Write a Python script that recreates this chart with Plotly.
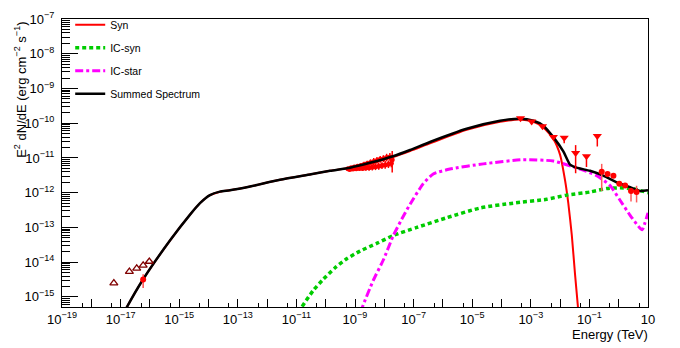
import numpy as np
import plotly.graph_objects as go

# ---- model curves, stored as log10(E / TeV) and log10(E^2 dN/dE / erg cm^-2 s^-1) ----
syn_log_e = [-16.85, -16.79, -16.23, -15.31, -14.63, -14.29, -13.95, -13.61, -13.27, -12.58,
             -11.56, -10.50, -9.85, -9.17, -8.49, -7.70, -7.12, -6.44, -5.19, -4.05,
             -3.37, -2.91, -2.57, -2.23, -2.00, -1.83, -1.72, -1.60, -1.49, -1.40, -1.36]
syn_log_f = [-15.40, -15.30, -14.49, -13.37, -12.63, -12.30, -12.07, -11.97, -11.93, -11.82,
             -11.63, -11.47, -11.37, -11.28, -11.15, -10.97, -10.80, -10.58, -10.19, -9.96,
             -9.89, -9.96, -10.12, -10.45, -10.91, -11.65, -12.30, -13.23, -14.35, -15.20, -15.60]

icsyn_log_e = [-10.90, -10.82, -10.42, -10.08, -9.68, -9.28, -8.83, -8.26, -7.69, -6.89,
               -5.87, -4.73, -3.60, -2.46, -1.78, -0.98, -0.41, 0.04, 0.50, 1.00]
icsyn_log_f = [-15.45, -15.30, -14.81, -14.49, -14.16, -13.90, -13.68, -13.46, -13.23, -13.00,
               -12.72, -12.44, -12.30, -12.19, -12.07, -11.98, -11.88, -11.86, -11.89, -12.00]

icstar_log_e = [-8.80, -8.75, -8.38, -8.03, -7.69, -7.41, -7.12, -6.67, -6.33, -5.76,
                -4.62, -3.26, -2.23, -1.32, -0.75, -0.30, 0.04, 0.39, 0.61, 0.80, 0.90, 1.00]
icstar_log_f = [-15.45, -15.30, -14.53, -13.93, -13.23, -12.77, -12.33, -11.74, -11.46, -11.32,
                -11.17, -11.05, -11.09, -11.32, -11.51, -11.79, -12.21, -12.65, -12.90, -13.07, -12.86, -12.58]

sum_log_e = [-16.85, -16.79, -16.23, -15.31, -14.63, -14.29, -13.95, -13.61, -13.27, -12.58,
             -11.56, -10.50, -9.85, -9.17, -8.49, -7.70, -7.12, -6.44, -5.19, -4.05,
             -3.37, -2.91, -2.57, -2.23, -1.89, -1.66, -1.44, -0.98, -0.53, -0.07, 0.39, 0.73, 1.00]
sum_log_f = [-15.40, -15.30, -14.49, -13.37, -12.63, -12.30, -12.07, -11.97, -11.93, -11.82,
             -11.63, -11.47, -11.37, -11.28, -11.14, -10.95, -10.77, -10.54, -10.16, -9.93,
             -9.87, -9.93, -10.07, -10.40, -10.81, -11.19, -11.28, -11.37, -11.51, -11.70, -11.84, -11.95, -11.93]

# ---- measurements (log10 values) ----
# X-ray spectrum
xray_log_e = [-9.24, -9.18, -9.13, -9.07, -9.02, -8.96, -8.91, -8.85, -8.80, -8.74,
              -8.69, -8.63, -8.58, -8.52, -8.47, -8.41, -8.36, -8.30, -8.25, -8.19,
              -8.14, -8.08, -8.03, -7.97, -7.92, -7.86, -7.81, -7.76, -7.73]
xray_log_f = [-11.31, -11.33, -11.28, -11.32, -11.26, -11.31, -11.24, -11.30, -11.22, -11.30,
              -11.19, -11.29, -11.16, -11.28, -11.13, -11.27, -11.10, -11.25, -11.07, -11.24,
              -11.04, -11.22, -11.02, -11.20, -10.99, -11.18, -10.97, -11.15, -11.05]
xray_log_hi = [0.03, 0.03, 0.04, 0.05, 0.05, 0.06, 0.06, 0.07, 0.07, 0.07,
               0.08, 0.08, 0.08, 0.09, 0.09, 0.09, 0.10, 0.10, 0.10, 0.10,
               0.10, 0.10, 0.10, 0.11, 0.11, 0.11, 0.11, 0.12, 0.25]
xray_log_lo = [0.03, 0.03, 0.04, 0.05, 0.05, 0.06, 0.06, 0.07, 0.07, 0.07,
               0.08, 0.08, 0.08, 0.09, 0.09, 0.09, 0.10, 0.10, 0.10, 0.10,
               0.10, 0.10, 0.10, 0.11, 0.11, 0.11, 0.11, 0.12, 0.37]

# optical / IR limits
opt_log_e = [-17.23, -16.70, -16.45, -16.23, -16.02]
opt_log_f = [-14.60, -14.27, -14.18, -14.09, -13.98]

# optical detection
optdet_log_e = [-16.23]
optdet_log_f = [-14.50]
optdet_log_hi = [0.15]
optdet_log_lo = [0.24]

# GeV points (downward triangles)
gev_log_e = [-3.35, -2.97, -2.60, -2.23, -1.86, -1.47, -1.10, -0.73]
gev_log_f = [-9.86, -9.95, -10.09, -10.40, -10.42, -10.86, -10.95, -10.37]
gev_log_hi = [0.0, 0.0, 0.0, 0.0, 0.0, 0.23, 0.0, 0.0]
gev_log_lo = [0.0, 0.0, 0.0, 0.0, 0.16, 0.58, 0.31, 0.30]

# TeV points
tev_log_e = [-0.58, -0.38, -0.18, 0.02, 0.22, 0.42, 0.61]
tev_log_f = [-11.40, -11.46, -11.51, -11.74, -11.79, -11.95, -11.98]
tev_log_hi = [0.23, 0.06, 0.06, 0.06, 0.07, 0.08, 0.18]
tev_log_lo = [0.55, 0.06, 0.06, 0.06, 0.07, 0.30, 0.30]


def p10(a):
    return np.power(10.0, np.asarray(a, dtype=float))


def err_arrays(log_f, log_hi, log_lo):
    f = p10(log_f)
    up = p10(np.asarray(log_f) + np.asarray(log_hi)) - f
    dn = f - p10(np.asarray(log_f) - np.asarray(log_lo))
    return f, up, dn


FONT = "Liberation Sans, Arial, Helvetica, sans-serif"
RED = "#ff0000"
GREEN = "#00cc00"
MAGENTA = "#ff00ff"

fig = go.Figure()

# X-ray data cloud
xf, xup, xdn = err_arrays(xray_log_f, xray_log_hi, xray_log_lo)
fig.add_trace(go.Scatter(
    x=p10(xray_log_e), y=xf, mode="markers",
    marker=dict(symbol="circle", size=5, color=RED),
    error_y=dict(type="data", symmetric=False, array=xup, arrayminus=xdn,
                 color=RED, thickness=1.5, width=0),
    showlegend=False, hoverinfo="skip"))

# model curves
fig.add_trace(go.Scatter(
    x=p10(syn_log_e), y=p10(syn_log_f), mode="lines", name="Syn",
    line=dict(color=RED, width=2, shape="spline", smoothing=0.6),
    legendgroup="syn"))
fig.add_trace(go.Scatter(
    x=p10(icsyn_log_e), y=p10(icsyn_log_f), mode="lines", name="IC-syn",
    line=dict(color=GREEN, width=3.5, dash="4px,3px", shape="spline", smoothing=0.6),
    legendgroup="icsyn"))
fig.add_trace(go.Scatter(
    x=p10(icstar_log_e), y=p10(icstar_log_f), mode="lines", name="IC-star",
    line=dict(color=MAGENTA, width=3, dash="8px,3px,3px,3px", shape="spline", smoothing=0.6),
    legendgroup="icstar"))
fig.add_trace(go.Scatter(
    x=p10(sum_log_e), y=p10(sum_log_f), mode="lines", name="Summed Spectrum",
    line=dict(color="black", width=2.5, shape="spline", smoothing=0.6),
    legendgroup="sum"))

# optical / IR limits
fig.add_trace(go.Scatter(
    x=p10(opt_log_e), y=p10(opt_log_f), mode="markers",
    marker=dict(symbol="triangle-up-open", size=7, color="#800000", line=dict(width=1.3)),
    showlegend=False, hoverinfo="skip"))

# optical detection
of, oup, odn = err_arrays(optdet_log_f, optdet_log_hi, optdet_log_lo)
fig.add_trace(go.Scatter(
    x=p10(optdet_log_e), y=of, mode="markers",
    marker=dict(symbol="circle", size=6, color=RED),
    error_y=dict(type="data", symmetric=False, array=oup, arrayminus=odn,
                 color="#ff5050", thickness=1.5, width=0),
    showlegend=False, hoverinfo="skip"))

# GeV points
gf, gup, gdn = err_arrays(gev_log_f, gev_log_hi, gev_log_lo)
fig.add_trace(go.Scatter(
    x=p10(gev_log_e), y=gf, mode="markers",
    marker=dict(symbol="triangle-down", size=8, color=RED),
    error_y=dict(type="data", symmetric=False, array=gup, arrayminus=gdn,
                 color=RED, thickness=1.5, width=0),
    showlegend=False, hoverinfo="skip"))

# TeV points
tf, tup, tdn = err_arrays(tev_log_f, tev_log_hi, tev_log_lo)
fig.add_trace(go.Scatter(
    x=p10(tev_log_e), y=tf, mode="markers",
    marker=dict(symbol="circle", size=6, color=RED),
    error_y=dict(type="data", symmetric=False, array=tup, arrayminus=tdn,
                 color="#ff5a5a", thickness=1.5, width=0),
    showlegend=False, hoverinfo="skip"))

# axis ticks
x_exps = list(range(-19, 2))
x_tickvals = [10.0 ** e for e in x_exps]
x_ticktext = []
for e in x_exps:
    if e % 2 == 0:
        x_ticktext.append("")
    elif e == 1:
        x_ticktext.append("10")
    else:
        x_ticktext.append("10<sup>\u2212%d</sup>" % (-e))
x_minor = [5 * 10.0 ** e for e in range(-19, 1)]

y_exps = list(range(-15, -6))
y_tickvals = [10.0 ** e for e in y_exps]
y_ticktext = ["10<sup>\u2212%d</sup>" % (-e) for e in y_exps]

fig.update_xaxes(
    type="log", range=[-19, 1], showgrid=False, zeroline=False,
    showline=True, linecolor="black", linewidth=1, mirror=True,
    ticks="inside", ticklen=8, tickwidth=1, tickcolor="black",
    tickmode="array", tickvals=x_tickvals, ticktext=x_ticktext,
    tickfont=dict(family=FONT, size=13, color="black"),
    minor=dict(tickmode="array", tickvals=x_minor, ticks="inside", ticklen=4,
               tickwidth=1, tickcolor="black", showgrid=False),
)
fig.update_yaxes(
    type="log", range=[-15.29, -7], showgrid=False, zeroline=False,
    showline=True, linecolor="black", linewidth=1, mirror=True,
    ticks="inside", ticklen=16, tickwidth=1, tickcolor="black",
    tickmode="array", tickvals=y_tickvals, ticktext=y_ticktext,
    tickfont=dict(family=FONT, size=13, color="black"),
    ticklabelstandoff=4,
    minor=dict(dtick="D1", ticks="inside", ticklen=8, tickwidth=1,
               tickcolor="black", showgrid=False),
)

fig.update_layout(
    width=680, height=348,
    margin=dict(l=62, r=32, t=10, b=41),
    paper_bgcolor="white", plot_bgcolor="white",
    font=dict(family=FONT, size=13, color="black"),
    legend=dict(x=0.014, y=1.03, xanchor="left", yanchor="top",
                bgcolor="rgba(0,0,0,0)", borderwidth=0,
                font=dict(family=FONT, size=10.5, color="black"),
                itemwidth=30, tracegroupgap=4),
    annotations=[
        dict(text="Energy (TeV)", xref="paper", yref="paper", x=1.003, y=-0.095,
             xanchor="right", yanchor="middle", showarrow=False,
             font=dict(family=FONT, size=13, color="black")),
        dict(text="E<sup>2</sup> dN/dE (erg cm<sup>\u22122</sup> s<sup>\u22121</sup>)",
             xref="paper", yref="paper", x=-0.0717, y=0.754, textangle=-90,
             xanchor="center", yanchor="middle", showarrow=False,
             font=dict(family=FONT, size=13, color="black")),
    ],
)

fig.write_html("out.html")
